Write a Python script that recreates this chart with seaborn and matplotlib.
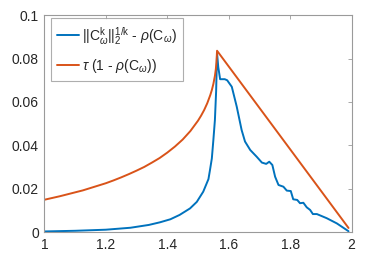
import matplotlib
matplotlib.use("Agg")
import matplotlib.pyplot as plt
import seaborn as sns
import pandas as pd

# --- data ---
omega_blue = [1.0, 1.1, 1.2, 1.28, 1.34, 1.376, 1.41, 1.44, 1.474, 1.496, 1.517,
              1.534, 1.539, 1.545, 1.550, 1.555, 1.559, 1.562, 1.566, 1.572, 1.587,
              1.595, 1.610, 1.626, 1.642, 1.653, 1.670, 1.691, 1.708, 1.722, 1.732,
              1.742, 1.751, 1.762, 1.778, 1.789, 1.802, 1.810, 1.823, 1.832, 1.843,
              1.854, 1.865, 1.874, 1.887, 1.919, 1.952, 1.99]
blue_vals = [0.0004, 0.0007, 0.0012, 0.0021, 0.0034, 0.0046, 0.0060, 0.0080, 0.0110, 0.0140, 0.0187,
             0.0245, 0.0287, 0.0340, 0.0425, 0.0517, 0.0650, 0.0825, 0.0760, 0.0705, 0.0705,
             0.0700, 0.0670, 0.0579, 0.0471, 0.0418, 0.0379, 0.0348, 0.0321, 0.0315, 0.0325,
             0.0310, 0.0256, 0.0218, 0.0210, 0.0192, 0.0190, 0.0152, 0.0149, 0.0134, 0.0136,
             0.0115, 0.0103, 0.0084, 0.0084, 0.0065, 0.0041, 0.0005]

omega_orange = [1.0, 1.025, 1.05, 1.075, 1.1, 1.125, 1.15, 1.175, 1.2, 1.225, 1.25,
                1.275, 1.3, 1.325, 1.35, 1.375, 1.4, 1.425, 1.45, 1.475, 1.5, 1.51,
                1.52, 1.53, 1.54, 1.545, 1.55, 1.555, 1.558, 1.56, 1.562, 1.99]
orange_vals = [0.0150, 0.0158, 0.0166, 0.0175, 0.0184, 0.0193, 0.0204, 0.0215, 0.0226,
               0.0239, 0.0253, 0.0268, 0.0284, 0.0301, 0.0321, 0.0342, 0.0367, 0.0395,
               0.0427, 0.0466, 0.0514, 0.0537, 0.0563, 0.0594, 0.0632, 0.0655, 0.0683,
               0.0720, 0.0751, 0.0782, 0.0836, 0.0020]

x_ticks = [1, 1.2, 1.4, 1.6, 1.8, 2]
x_ticklabels = ["1", "1.2", "1.4", "1.6", "1.8", "2"]
y_ticks = [0, 0.02, 0.04, 0.06, 0.08, 0.1]
y_ticklabels = ["0", "0.02", "0.04", "0.06", "0.08", "0.1"]

label_blue = r"$||\mathrm{C}^{\mathrm{k}}_{\omega}||_2^{1/\mathrm{k}}$ - $\rho(\mathrm{C}_{\omega})$"
label_orange = r"$\tau$ (1 - $\rho(\mathrm{C}_{\omega})$)"

sns.set_theme(style="white")
plt.rcParams["font.family"] = ["Liberation Sans", "DejaVu Sans"]
plt.rcParams["mathtext.fontset"] = "custom"
plt.rcParams["mathtext.rm"] = "Liberation Sans"
plt.rcParams["mathtext.it"] = "Liberation Sans:italic"
plt.rcParams["mathtext.bf"] = "Liberation Sans:bold"

fig = plt.figure(figsize=(3.83, 2.70), dpi=100)
ax = fig.add_axes([0.116, 0.1396, 0.802, 0.8044])

df_b = pd.DataFrame({"omega": omega_blue, "val": blue_vals})
df_o = pd.DataFrame({"omega": omega_orange, "val": orange_vals})

sns.lineplot(data=df_b, x="omega", y="val", ax=ax, color="#0072BD", lw=1.4,
             sort=False, estimator=None, label=label_blue)
sns.lineplot(data=df_o, x="omega", y="val", ax=ax, color="#D95319", lw=1.4,
             sort=False, estimator=None, label=label_orange)

ax.set_xlim(1, 2)
ax.set_ylim(0, 0.1)
ax.set_xticks(x_ticks)
ax.set_xticklabels(x_ticklabels)
ax.set_yticks(y_ticks)
ax.set_yticklabels(y_ticklabels)
ax.tick_params(direction="in", length=3, width=0.6, colors="#262626", labelsize=10,
               top=True, right=True, labeltop=False, labelright=False, pad=4)
ax.tick_params(axis="both", which="both", color="#9a9a9a")
for s in ax.spines.values():
    s.set_color("#9a9a9a")
    s.set_linewidth(0.8)
ax.set_ylabel("")
ax.set_xlabel(r"$\omega$", fontsize=10, color="#262626", labelpad=14)

leg = ax.legend(loc="upper left", bbox_to_anchor=(0.022, 0.985), fontsize=10,
                frameon=True, fancybox=False, handlelength=1.55, handletextpad=0.2,
                borderpad=0.45, labelspacing=0.75, borderaxespad=0.0)
leg.get_frame().set_edgecolor("#9a9a9a")
leg.get_frame().set_linewidth(0.8)
for t in leg.get_texts():
    t.set_color("#262626")

fig.savefig("out.png", dpi=100)
